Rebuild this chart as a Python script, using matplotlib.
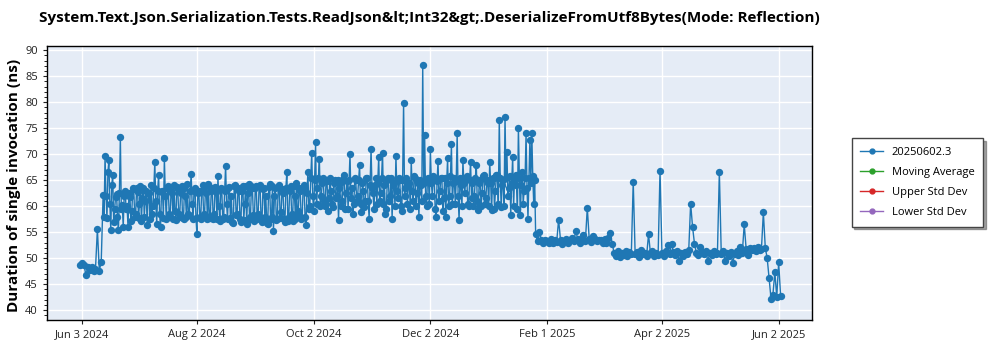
import matplotlib as mpl
mpl.use("Agg")
import matplotlib.pyplot as plt
import matplotlib.dates as mdates
from matplotlib.ticker import MultipleLocator
from matplotlib.lines import Line2D
import numpy as np
import pandas as pd
from datetime import datetime

plt.rcParams["font.family"] = ["Open Sans", "DejaVu Sans"]

# first run of each day (ns), one list per month
vals_jun_2024 = [48.7, 49.1, 48.6, 46.8, 48.2, 47.8, 48.3, 47.6, 47.9, 55.6, 47.6, 49.3, 62.2, 69.7,
                 57.7, 68.8, 55.5, 66.0, 59.5, 62.3, 55.5, 73.3, 60.3, 62.0, 59.5, 56.0, 61.8, 59.0, 63.2]
vals_jul_2024 = [58.5, 62.8, 60.5, 57.2, 63.5, 61.0, 56.3, 62.5, 64.0, 60.0, 68.5, 56.5, 66.0, 56.0, 63.0,
                 69.3, 57.5, 63.8, 58.0, 62.5, 64.0, 57.3, 63.2, 58.0, 63.8, 57.5, 62.0, 64.2, 58.2, 66.2, 57.6]
vals_aug_2024 = [63.5, 54.6, 63.0, 57.5, 64.0, 58.2, 62.5, 64.2, 57.8, 63.5, 58.5, 62.8, 65.7, 57.2, 63.2,
                 58.0, 67.8, 57.5, 63.6, 62.0, 56.8, 64.0, 58.4, 63.0, 57.0, 63.8, 60.5, 56.5, 64.2, 58.0, 63.5]
vals_sep_2024 = [57.2, 63.8, 58.5, 64.0, 57.0, 63.5, 62.0, 56.5, 64.2, 58.0, 55.2, 63.5, 57.5, 64.0, 58.8,
                 62.5, 57.0, 66.6, 58.0, 63.8, 57.2, 62.0, 64.5, 59.0, 63.0, 57.8, 64.0, 56.4, 66.5, 60.0]
vals_oct_2024 = [70.3, 59.0, 72.4, 63.5, 69.0, 62.0, 65.5, 60.0, 64.8, 61.5, 63.0, 59.8, 65.0, 62.0, 57.3,
                 64.5, 61.0, 66.0, 62.5, 59.5, 70.0, 63.5, 60.5, 65.0, 62.0, 67.9, 58.8, 63.0, 61.0, 65.5, 57.6]
vals_nov_2024 = [71.0, 62.5, 64.0, 60.5, 69.5, 62.5, 70.3, 64.0, 59.5, 65.5, 62.0, 57.6, 64.5, 69.7, 61.5,
                 65.0, 59.0, 79.9, 63.5, 60.5, 64.5, 68.8, 61.0, 65.5, 62.5, 58.0, 64.0, 87.1, 73.7, 60.0]
vals_dec_2024 = [65.0, 71.0, 62.0, 65.5, 57.9, 68.7, 63.0, 65.5, 61.5, 57.9, 69.2, 62.0, 71.9, 64.5, 60.5,
                 74.0, 57.3, 64.0, 68.8, 62.5, 65.8, 60.0, 68.5, 64.5, 62.0, 67.9, 59.2, 65.0, 62.5, 66.0, 61.5]
vals_jan_2025 = [64.5, 68.5, 59.2, 65.5, 63.0, 66.0, 76.5, 59.9, 65.0, 77.2, 70.5, 63.5, 58.3, 69.5, 65.5,
                 64.0, 75.1, 58.3, 66.5, 63.0, 74.0, 57.6, 72.7, 74.0, 60.5, 54.7, 53.2, 55.0, 53.5, 53.0, 53.4]
vals_feb_2025 = [53.3, 53.0, 53.6, 52.9, 53.4, 53.1, 57.4, 53.5, 52.8, 53.3, 53.6, 53.0, 53.4, 53.8,
                 53.2, 55.3, 53.6, 53.0, 53.5, 54.4, 53.3, 59.7, 53.7, 53.1, 54.3, 53.6, 53.2, 53.5]
vals_mar_2025 = [53.4, 52.9, 53.6, 53.0, 53.8, 54.9, 52.8, 51.0, 50.5, 51.3, 50.2, 51.0, 50.6, 51.4, 50.4,
                 51.1, 50.8, 64.7, 50.8, 51.2, 50.3, 51.5, 50.7, 51.0, 50.5, 54.6, 50.9, 51.3, 50.4, 51.0, 50.6]
vals_apr_2025 = [66.8, 51.0, 50.5, 51.3, 52.6, 50.8, 52.8, 51.2, 50.6, 51.4, 49.4, 51.0, 50.5, 51.2, 50.8,
                 51.5, 60.5, 56.0, 52.8, 51.0, 50.6, 52.2, 51.2, 50.7, 51.4, 49.4, 51.0, 50.6, 51.3, 50.8]
vals_may_2025 = [51.0, 66.6, 50.8, 51.3, 49.5, 51.0, 50.5, 51.2, 49.0, 50.8, 51.4, 50.6, 52.2, 51.0, 56.5,
                 51.8, 50.6, 52.0, 51.5, 51.9, 51.4, 52.1, 51.6, 51.8, 58.8, 52.0, 50.0, 46.2, 42.2, 43.0, 47.3]
vals_jun_2025 = [42.5, 49.2, 42.8]

# second run of the day, noisy period only
pm_jun_2024 = [58.0, 62.0, 66.5, 60.5, 64.0, 57.0, 61.8, 58.0, 62.5, 59.5, 56.0, 63.0, 60.0, 62.5, 57.2, 63.5, 58.0]
pm_jul_2024 = [63.5, 57.8, 63.9, 61.5, 58.0, 63.0, 62.5, 57.5, 58.5, 63.5, 61.0, 63.0, 58.5, 62.8, 57.8, 62.0,
               63.5, 58.5, 63.0, 57.5, 59.0, 63.6, 58.5, 62.5, 57.8, 63.5, 58.0, 58.5, 63.0, 60.5, 63.0]
pm_aug_2024 = [57.8, 62.5, 58.0, 63.0, 58.5, 63.8, 57.5, 58.0, 63.0, 57.5, 63.6, 57.6, 60.0, 63.5, 57.5, 63.0,
               60.5, 63.4, 57.8, 57.0, 63.8, 58.2, 63.5, 57.6, 63.0, 57.3, 63.9, 62.5, 57.5, 63.8, 58.2]
pm_sep_2024 = [63.5, 57.6, 63.8, 57.8, 63.2, 58.0, 56.8, 63.6, 57.6, 63.8, 62.0, 57.3, 63.6, 57.8, 63.2, 57.6,
               63.5, 57.2, 63.0, 58.5, 63.8, 57.5, 58.5, 63.5, 57.5, 63.5, 58.0, 62.5, 59.5, 65.5]
pm_oct_2024 = [62.0, 65.0, 60.5, 65.5, 60.0, 64.5, 61.0, 65.0, 59.0, 65.5, 60.5, 64.5, 61.5, 65.0, 63.5, 60.0,
               65.2, 59.5, 64.8, 65.0, 61.5, 58.5, 65.5, 61.0, 65.0, 60.5, 64.5, 59.8, 65.5, 61.0, 64.0]
pm_nov_2024 = [63.5, 59.5, 65.5, 64.5, 61.0, 65.5, 60.5, 58.5, 65.0, 61.0, 65.5, 64.0, 60.0, 63.0, 65.5, 60.0,
               65.0, 62.0, 65.5, 64.5, 59.5, 63.0, 65.8, 60.0, 64.5, 65.0, 61.0, 64.5, 62.0, 65.5]
pm_dec_2024 = [60.5, 64.5, 65.8, 59.5, 64.8, 61.0, 65.5, 59.0, 65.5, 64.5, 60.0, 65.8, 60.5, 65.5, 64.8, 62.0,
               65.5, 60.0, 64.5, 65.5, 60.5, 65.0, 61.5, 60.0, 65.5, 61.0, 64.5, 60.0, 65.8, 60.5, 65.0]
pm_jan_2025 = [60.0, 64.5, 65.5, 59.5, 66.0, 60.5, 65.5, 64.0, 60.0, 65.5, 62.0, 65.8, 64.5, 60.0, 66.0, 59.5,
               65.5, 64.0, 60.5, 65.5, 63.5, 65.5, 64.5, 65.8, 65.0]

month_starts = ["2024-06-02", "2024-07-01", "2024-08-01", "2024-09-01", "2024-10-01", "2024-11-01",
                "2024-12-01", "2025-01-01", "2025-02-01", "2025-03-01", "2025-04-01", "2025-05-01",
                "2025-06-01"]
month_vals = [vals_jun_2024, vals_jul_2024, vals_aug_2024, vals_sep_2024, vals_oct_2024, vals_nov_2024,
              vals_dec_2024, vals_jan_2025, vals_feb_2025, vals_mar_2025, vals_apr_2025, vals_may_2025,
              vals_jun_2025]
pm_starts = ["2024-06-14 12:00", "2024-07-01 12:00", "2024-08-01 12:00", "2024-09-01 12:00",
             "2024-10-01 12:00", "2024-11-01 12:00", "2024-12-01 12:00", "2025-01-01 12:00"]
pm_vals = [pm_jun_2024, pm_jul_2024, pm_aug_2024, pm_sep_2024, pm_oct_2024, pm_nov_2024, pm_dec_2024,
           pm_jan_2025]

df = pd.DataFrame({
    "date": np.concatenate([pd.date_range(s, periods=len(v), freq="D").values
                            for s, v in zip(month_starts + pm_starts, month_vals + pm_vals)]),
    "ns": np.concatenate(month_vals + pm_vals),
}).sort_values("date")

tick_dates = ["2024-06-03", "2024-08-02", "2024-10-02", "2024-12-02", "2025-02-01", "2025-04-02", "2025-06-02"]
series_labels = ["20250602.3", "Moving Average", "Upper Std Dev", "Lower Std Dev"]
series_colors = ["#1f77b4", "#2ca02c", "#d62728", "#9467bd"]

fig = plt.figure(figsize=(10, 3.5), dpi=100)
ax = fig.add_axes([0.047, 0.0857, 0.765, 0.783])
ax.set_facecolor("#e5ecf6")
ax.plot(df["date"], df["ns"], "-o", color=series_colors[0], lw=1.0, ms=5.3, mew=0, zorder=3)

ax.set_xlim(datetime(2024, 5, 15, 16), datetime(2025, 6, 19, 10))
ax.set_ylim(38.1, 90.8)
ax.set_xticks(pd.to_datetime(tick_dates))
ax.xaxis.set_major_formatter(mdates.DateFormatter("%b %-d %Y"))
ax.yaxis.set_major_locator(MultipleLocator(5))
ax.yaxis.set_minor_locator(MultipleLocator(1))
ax.grid(True, color="white", lw=1.0)
ax.set_axisbelow(True)
ax.tick_params(axis="both", labelsize=8, colors="#222222", length=3, width=0.8)
ax.tick_params(axis="y", which="minor", length=2, width=0.6)
for sp in ax.spines.values():
    sp.set_color("black")
    sp.set_linewidth(1.0)

fig.text(0.4295, 0.949, "System.Text.Json.Serialization.Tests.ReadJson&lt;Int32&gt;.DeserializeFromUtf8Bytes(Mode: Reflection)",
         ha="center", va="center", fontsize=11, fontweight="bold")
fig.text(0.014, 0.47, "Duration of single invocation (ns)", rotation=90, ha="center", va="center",
         fontsize=11, fontweight="bold")

handles = [Line2D([], [], color=c, marker="o", ms=3.5, lw=1) for c in series_colors]
leg = fig.legend(handles, series_labels, loc="center left", bbox_to_anchor=(0.846, 0.479), fontsize=8,
                 frameon=True, fancybox=False, shadow=True, edgecolor="#444444", borderpad=0.8,
                 labelspacing=0.8, handlelength=2.0)
leg.get_frame().set_linewidth(1.0)

fig.savefig("out.png", dpi=100)
